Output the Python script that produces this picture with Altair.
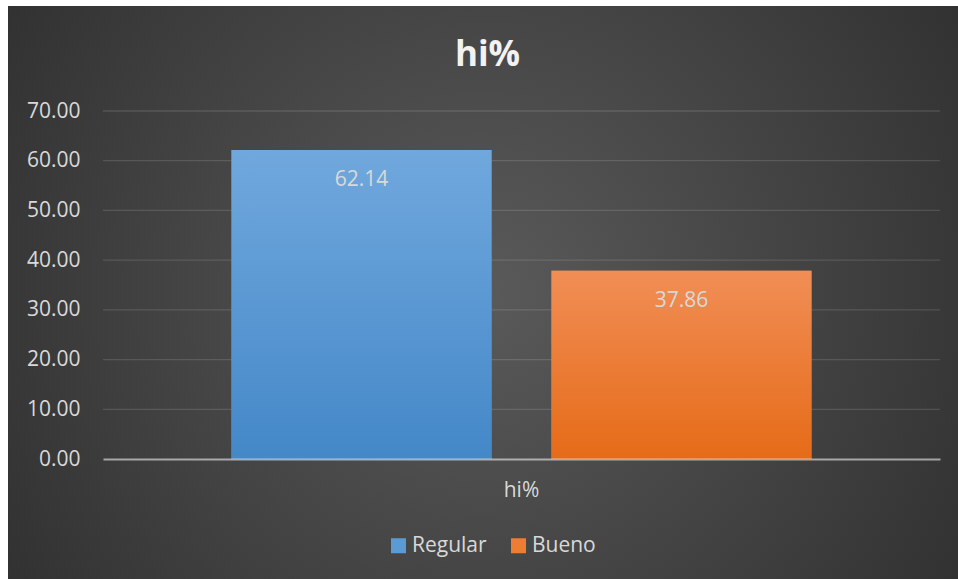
import altair as alt
import pandas as pd

categories = ["hi%", "hi%"]
series = ["Regular", "Bueno"]
values = [62.14, 37.86]
y_ticks = [0, 10, 20, 30, 40, 50, 60, 70]

df = pd.DataFrame({"cat": categories, "serie": series, "valor": values})
grid_df = pd.DataFrame({"valor": y_ticks[1:]})

FONT = "Open Sans"
LABEL = "#d9d9d9"

x_enc = alt.X("cat:N", title=None,
              scale=alt.Scale(paddingInner=0, paddingOuter=0.2216),
              axis=alt.Axis(labelAngle=0, labelFontSize=21, labelColor=LABEL, labelFont=FONT,
                            tickSize=0, labelPadding=20, domainColor="#ffffff", domainOpacity=0.55,
                            domainWidth=2, zindex=2, grid=False))
xo_enc = alt.XOffset("serie:N", sort=series,
                     scale=alt.Scale(paddingInner=0.1875, paddingOuter=0))
y_scale = alt.Scale(domain=[0, 70], nice=False)
y_enc = alt.Y("valor:Q", title=None, scale=y_scale,
              axis=alt.Axis(values=y_ticks, format=".2f", labelFontSize=21, labelColor=LABEL,
                            labelFont=FONT, tickSize=0, labelPadding=23, domain=False,
                            grid=False, zindex=2))

bg_grad = alt.Gradient(gradient="radial",
                       stops=[alt.GradientStop(offset=0, color="#5a5a5a"),
                              alt.GradientStop(offset=1, color="#262626")],
                       x1=0.5, y1=0.5, r1=0, x2=0.5, y2=0.5, r2=0.75)

background = alt.Chart(pd.DataFrame({"a": [0]})).mark_rect(clip=False).encode(
    x=alt.value(-95), x2=alt.value(855), y=alt.value(-105), y2=alt.value(468),
    color=alt.value(bg_grad))

gridlines = alt.Chart(grid_df).mark_rule(color="#ffffff", opacity=0.13, strokeWidth=1.3).encode(
    y=y_enc, x=alt.value(0), x2=alt.value(837))

legend_bars = alt.Chart(df).mark_bar().encode(
    x=x_enc, xOffset=xo_enc, y=y_enc,
    color=alt.Color("serie:N", sort=series,
                    scale=alt.Scale(domain=series, range=["#5b9bd5", "#ed7d31"]),
                    legend=alt.Legend(title=None, orient="none", legendX=285, legendY=424,
                                      direction="horizontal", symbolType="square",
                                      symbolSize=225, symbolStrokeWidth=0,
                                      labelFontSize=21, labelColor=LABEL, labelFont=FONT,
                                      labelOffset=3, columnPadding=21)))

blue_grad = alt.Gradient(gradient="linear",
                         stops=[alt.GradientStop(offset=0, color="#70a8dd"),
                                alt.GradientStop(offset=1, color="#4488c8")],
                         x1=0, x2=0, y1=0, y2=1)
orange_grad = alt.Gradient(gradient="linear",
                           stops=[alt.GradientStop(offset=0, color="#f18e56"),
                                  alt.GradientStop(offset=1, color="#e56b18")],
                           x1=0, x2=0, y1=0, y2=1)

grad_bars = alt.Chart(df).mark_bar().encode(
    x=x_enc, xOffset=xo_enc, y=y_enc,
    color=alt.condition(alt.datum.serie == "Regular", alt.value(blue_grad), alt.value(orange_grad)))

labels = alt.Chart(df).mark_text(baseline="middle", dy=30, fontSize=21, font=FONT, color=LABEL).encode(
    x=x_enc, xOffset=xo_enc, y=y_enc,
    text=alt.Text("valor:Q", format=".2f"))

chart = alt.layer(background, gridlines, legend_bars, grad_bars, labels).properties(
    width=837, height=348,
    title=alt.TitleParams("hi%", fontSize=35, fontWeight="bold", font=FONT, color="#f2f2f2",
                          anchor="middle", dx=-34, offset=-67),
    autosize=alt.AutoSizeParams(type="none"),
    padding={"left": 103, "top": 111, "right": 18, "bottom": 120},
).configure(background="#ffffff").configure_view(stroke=None)

chart.save("out.html", embed_options={"renderer": "svg", "actions": False})
